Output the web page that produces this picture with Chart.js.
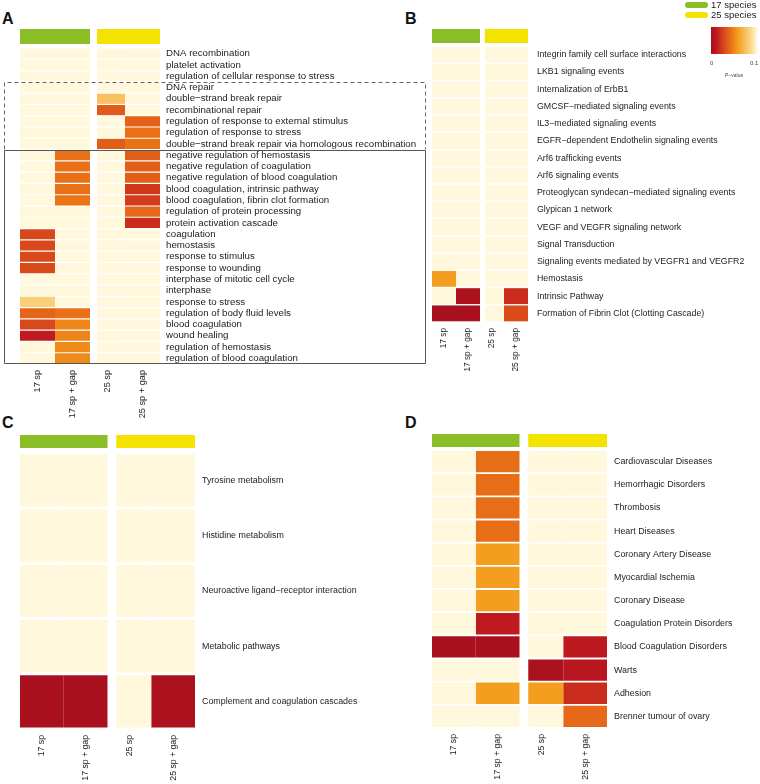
<!DOCTYPE html>
<html>
<head>
<meta charset="utf-8">
<script src="https://cdn.jsdelivr.net/npm/chart.js@4.4.0/dist/chart.umd.min.js"></script>
<style>
  body { margin: 0; background: #fff; font-family: "Liberation Sans", Arial, sans-serif; }
  #page { position: relative; width: 760px; height: 784px; overflow: hidden; }
  canvas, .abs { position: absolute; }
  .letter { font-weight: bold; font-size: 16px; line-height: 16px; color: #111; }
  .pill { width: 23px; height: 6px; border-radius: 3px; }
  .legtxt { font-size: 9.5px; line-height: 10px; color: #222; }
  .small { font-size: 6px; line-height: 6px; color: #444; }
</style>
</head>
<body>
<div id="page">
  <div class="abs letter" style="left:2px;top:11px">A</div>
  <div class="abs letter" style="left:405px;top:11px">B</div>
  <div class="abs letter" style="left:2px;top:415px">C</div>
  <div class="abs letter" style="left:405px;top:415px">D</div>

  <canvas id="chartA" width="430" height="420" style="left:0;top:0"></canvas>
  <canvas id="chartB" width="360" height="390" style="left:400px;top:0"></canvas>
  <canvas id="chartC" width="380" height="384" style="left:0;top:400px"></canvas>
  <canvas id="chartD" width="360" height="384" style="left:400px;top:400px"></canvas>

  <div class="abs pill" style="left:685px;top:2px;background:#8bbd27"></div>
  <div class="abs legtxt" style="left:711px;top:0px">17 species</div>
  <div class="abs pill" style="left:685px;top:12px;background:#f4e200"></div>
  <div class="abs legtxt" style="left:711px;top:10px">25 species</div>
  <div class="abs" id="colorbar" style="left:711px;top:27px;width:46px;height:27px"></div>
  <div class="abs small" style="left:710px;top:60px">0</div>
  <div class="abs small" style="left:750px;top:60px">0.1</div>
  <div class="abs small" style="left:725px;top:72px;font-size:5px">P−value</div>
</div>

<script>
// columns shared by all four panels
const columns = ["17 sp", "17 sp + gap", "25 sp", "25 sp + gap"];
const speciesGroups = ["17 species", "25 species"];

// A: GO terms
const termsA = [
  "DNA recombination", "platelet activation", "regulation of cellular response to stress",
  "DNA repair", "double−strand break repair", "recombinational repair",
  "regulation of response to external stimulus", "regulation of response to stress",
  "double−strand break repair via homologous recombination",
  "negative regulation of hemostasis", "negative regulation of coagulation",
  "negative regulation of blood coagulation", "blood coagulation, intrinsic pathway",
  "blood coagulation, fibrin clot formation", "regulation of protein processing",
  "protein activation cascade", "coagulation", "hemostasis", "response to stimulus",
  "response to wounding", "interphase of mitotic cell cycle", "interphase",
  "response to stress", "regulation of body fluid levels", "blood coagulation",
  "wound healing", "regulation of hemostasis", "regulation of blood coagulation"
];
const pA_17     = [0.1, 0.1, 0.1, 0.1, 0.1, 0.1, 0.1, 0.1, 0.1, 0.1, 0.1, 0.1, 0.1, 0.1, 0.1, 0.1, 0.028, 0.028, 0.028, 0.029, 0.1, 0.1, 0.082, 0.039, 0.028, 0.012, 0.1, 0.1];
const pA_17gap  = [0.1, 0.1, 0.1, 0.1, 0.1, 0.1, 0.1, 0.1, 0.1, 0.043, 0.043, 0.043, 0.043, 0.045, 0.1, 0.1, 0.1, 0.1, 0.1, 0.1, 0.1, 0.1, 0.1, 0.043, 0.05, 0.05, 0.052, 0.052];
const pA_25     = [0.1, 0.1, 0.1, 0.1, 0.075, 0.035, 0.1, 0.1, 0.036, 0.1, 0.1, 0.1, 0.1, 0.1, 0.1, 0.1, 0.1, 0.1, 0.1, 0.1, 0.1, 0.1, 0.1, 0.1, 0.1, 0.1, 0.1, 0.1];
const pA_25gap  = [0.1, 0.1, 0.1, 0.1, 0.1, 0.1, 0.038, 0.043, 0.044, 0.037, 0.037, 0.037, 0.022, 0.024, 0.04, 0.018, 0.1, 0.1, 0.1, 0.1, 0.1, 0.1, 0.1, 0.1, 0.1, 0.1, 0.1, 0.1];

// B: pathways
const termsB = [
  "Integrin family cell surface interactions", "LKB1 signaling events", "Internalization of ErbB1",
  "GMCSF−mediated signaling events", "IL3−mediated signaling events",
  "EGFR−dependent Endothelin signaling events", "Arf6 trafficking events", "Arf6 signaling events",
  "Proteoglycan syndecan−mediated signaling events", "Glypican 1 network",
  "VEGF and VEGFR signaling network", "Signal Transduction",
  "Signaling events mediated by VEGFR1 and VEGFR2", "Hemostasis", "Intrinsic Pathway",
  "Formation of Fibrin Clot (Clotting Cascade)"
];
const pB_17    = [0.1, 0.1, 0.1, 0.1, 0.1, 0.1, 0.1, 0.1, 0.1, 0.1, 0.1, 0.1, 0.1, 0.058, 0.1, 0.002];
const pB_17gap = [0.1, 0.1, 0.1, 0.1, 0.1, 0.1, 0.1, 0.1, 0.1, 0.1, 0.1, 0.1, 0.1, 0.1, 0.003, 0.002];
const pB_25    = [0.1, 0.1, 0.1, 0.1, 0.1, 0.1, 0.1, 0.1, 0.1, 0.1, 0.1, 0.1, 0.1, 0.1, 0.1, 0.1];
const pB_25gap = [0.1, 0.1, 0.1, 0.1, 0.1, 0.1, 0.1, 0.1, 0.1, 0.1, 0.1, 0.1, 0.1, 0.1, 0.018, 0.03];

// C: KEGG
const termsC = ["Tyrosine metabolism", "Histidine metabolism", "Neuroactive ligand−receptor interaction",
  "Metabolic pathways", "Complement and coagulation cascades"];
const pC_17    = [0.1, 0.1, 0.1, 0.1, 0.002];
const pC_17gap = [0.1, 0.1, 0.1, 0.1, 0.002];
const pC_25    = [0.1, 0.1, 0.1, 0.1, 0.1];
const pC_25gap = [0.1, 0.1, 0.1, 0.1, 0.003];

// D: diseases
const termsD = ["Cardiovascular Diseases", "Hemorrhagic Disorders", "Thrombosis", "Heart Diseases",
  "Coronary Artery Disease", "Myocardial Ischemia", "Coronary Disease", "Coagulation Protein Disorders",
  "Blood Coagulation Disorders", "Warts", "Adhesion", "Brenner tumour of ovary"];
const pD_17    = [0.1, 0.1, 0.1, 0.1, 0.1, 0.1, 0.1, 0.1, 0.002, 0.1, 0.1, 0.1];
const pD_17gap = [0.042, 0.042, 0.042, 0.042, 0.058, 0.058, 0.058, 0.012, 0.002, 0.1, 0.058, 0.1];
const pD_25    = [0.1, 0.1, 0.1, 0.1, 0.1, 0.1, 0.1, 0.1, 0.1, 0.003, 0.058, 0.1];
const pD_25gap = [0.1, 0.1, 0.1, 0.1, 0.1, 0.1, 0.1, 0.1, 0.011, 0.009, 0.018, 0.04];

// colour scale, p-value 0 .. 0.1
const scaleStops = [
  [0.000, [165, 15, 30]],
  [0.012, [190, 26, 31]],
  [0.022, [208, 56, 28]],
  [0.035, [224, 90, 26]],
  [0.045, [235, 117, 21]],
  [0.058, [243, 158, 31]],
  [0.075, [248, 192, 96]],
  [0.085, [250, 213, 132]],
  [0.100, [255, 248, 220]]
];
function pColor(p) {
  if (p >= 0.1) return "rgb(255,248,220)";
  for (let i = 1; i < scaleStops.length; i++) {
    const [p1, c1] = scaleStops[i];
    const [p0, c0] = scaleStops[i - 1];
    if (p <= p1) {
      const t = (p - p0) / (p1 - p0);
      const c = c0.map((v, k) => Math.round(v + (c1[k] - v) * t));
      return `rgb(${c.join(",")})`;
    }
  }
}
document.getElementById("colorbar").style.background =
  "linear-gradient(to right," + scaleStops.map(s => `rgb(${s[1].join(",")}) ${s[0] * 1000}%`).join(",") + ")";

const colEdges = [[0, 1], [1, 2], [2.2, 3], [3, 4]];
const headerBars = [
  { from: 0, to: 2, color: "#8bbd27" },
  { from: 2.2, to: 4, color: "#f4e200" }
];

// green / yellow bars above the cells
const headerPlugin = {
  id: "groupHeader",
  afterDatasetsDraw(chart, args, opts) {
    const { ctx, chartArea, scales: { x } } = chart;
    ctx.save();
    headerBars.forEach(h => {
      const x0 = x.getPixelForValue(h.from);
      const x1 = x.getPixelForValue(h.to);
      ctx.fillStyle = h.color;
      ctx.fillRect(x0, chartArea.top - opts.offset, x1 - x0, opts.height);
    });
    ctx.restore();
  }
};

// dashed + solid boxes in panel A
const boxPlugin = {
  id: "termBoxes",
  afterDraw(chart, args, opts) {
    if (!opts.boxes) return;
    const { ctx, chartArea } = chart;
    const n = chart.data.labels.length;
    const band = (chartArea.bottom - chartArea.top) / n;
    const rowTop = i => chartArea.top + band * i;
    ctx.save();
    opts.boxes.forEach(b => {
      const y0 = Math.round(rowTop(b.from)) + 0.5;
      const y1 = Math.round(rowTop(b.to)) - 0.5;
      ctx.strokeStyle = b.dashed ? "#666" : "#555";
      ctx.lineWidth = 1;
      ctx.setLineDash(b.dashed ? [4, 3] : []);
      ctx.beginPath();
      ctx.moveTo(opts.left + 0.5, y1);
      ctx.lineTo(opts.left + 0.5, y0);
      ctx.lineTo(opts.right + 0.5, y0);
      ctx.lineTo(opts.right + 0.5, y1);
      if (!b.dashed) ctx.lineTo(opts.left + 0.5, y1);
      ctx.stroke();
    });
    ctx.restore();
  }
};

function heatmap(id, terms, pvals, cfg) {
  const ctx = document.getElementById(id).getContext("2d");
  return new Chart(ctx, {
    type: "bar",
    data: {
      labels: terms,
      datasets: columns.map((name, c) => ({
        label: name,
        data: terms.map(() => colEdges[c].slice()),
        backgroundColor: pvals[c].map(pColor),
        borderWidth: 0,
        grouped: false,
        barPercentage: 1,
        categoryPercentage: cfg.rowFill
      }))
    },
    options: {
      indexAxis: "y",
      responsive: false,
      animation: false,
      layout: { padding: cfg.padding },
      plugins: {
        legend: { display: false },
        tooltip: { enabled: false },
        groupHeader: cfg.header,
        termBoxes: cfg.boxes || {}
      },
      scales: {
        x: {
          type: "linear", position: "bottom", min: 0, max: 4,
          grid: { display: false, drawTicks: false },
          border: { display: false },
          afterBuildTicks: s => { s.ticks = columns.map((_, i) => ({ value: i + 0.5 })); },
          afterFit: s => { s.height = cfg.xHeight; },
          ticks: {
            autoSkip: false, minRotation: 90, maxRotation: 90, padding: 6,
            color: "#222",
            font: { family: "Liberation Sans", size: cfg.xFont },
            callback: (v, i) => columns[i]
          }
        },
        y: {
          type: "category", position: "right",
          grid: { display: false, drawTicks: false },
          border: { display: false },
          afterFit: s => { s.width = cfg.yWidth; },
          ticks: {
            autoSkip: false, padding: cfg.labelPad,
            color: "#222",
            font: { family: "Liberation Sans", size: cfg.fontSize }
          }
        }
      }
    },
    plugins: [headerPlugin, boxPlugin]
  });
}

heatmap("chartA", termsA, [pA_17, pA_17gap, pA_25, pA_25gap], {
  padding: { left: 20, top: 48, right: 0, bottom: 0 },
  yWidth: 270, xHeight: 56, labelPad: 6, fontSize: 9.7, xFont: 9.2, rowFill: 0.9,
  header: { offset: 19, height: 15 },
  boxes: { left: 4, right: 425, boxes: [{ from: 3, to: 9, dashed: true }, { from: 9, to: 28, dashed: false }] }
});

heatmap("chartB", termsB, [pB_17, pB_17gap, pB_25, pB_25gap], {
  padding: { left: 32, top: 46, right: 0, bottom: 0 },
  yWidth: 232, xHeight: 68, labelPad: 9, fontSize: 8.8, xFont: 8.3, rowFill: 0.92,
  header: { offset: 17, height: 14 }
});

heatmap("chartC", termsC, [pC_17, pC_17gap, pC_25, pC_25gap], {
  padding: { left: 20, top: 53, right: 0, bottom: 0 },
  yWidth: 185, xHeight: 55, labelPad: 7, fontSize: 8.9, xFont: 8.7, rowFill: 0.945,
  header: { offset: 18, height: 13 }
});

heatmap("chartD", termsD, [pD_17, pD_17gap, pD_25, pD_25gap], {
  padding: { left: 32, top: 50, right: 0, bottom: 0 },
  yWidth: 153, xHeight: 56, labelPad: 7, fontSize: 8.9, xFont: 8.7, rowFill: 0.92,
  header: { offset: 16, height: 13 }
});
</script>
</body>
</html>
